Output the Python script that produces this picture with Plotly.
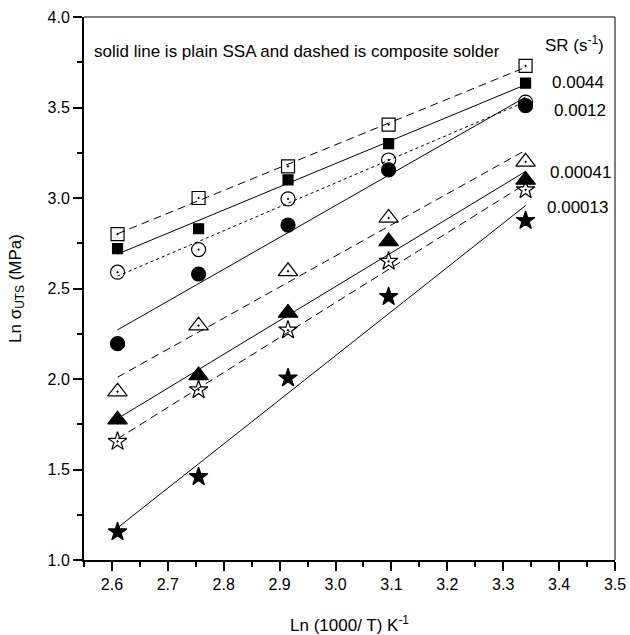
import numpy as np
import plotly.graph_objects as go

# x positions: Ln(1000/T)
x_vals = [2.61, 2.755, 2.915, 3.095, 3.34]

# Ln sigma_UTS values, plain SSA (filled) and composite (open)
sr_0044_plain = [2.72, 2.83, 3.10, 3.30, 3.635]
sr_0044_comp = [2.80, 3.00, 3.175, 3.405, 3.73]
sr_0012_plain = [2.195, 2.58, 2.85, 3.155, 3.51]
sr_0012_comp = [2.59, 2.715, 2.995, 3.21, 3.53]
sr_00041_plain = [1.775, 2.02, 2.365, 2.76, 3.10]
sr_00041_comp = [1.93, 2.295, 2.595, 2.89, 3.20]
sr_00013_plain = [1.155, 1.46, 2.005, 2.455, 2.875]
sr_00013_comp = [1.655, 1.94, 2.27, 2.65, 3.045]

sr_labels = ["0.0044", "0.0012", "0.00041", "0.00013"]
sr_label_y = [3.64, 3.485, 3.14, 2.95]
sr_label_x = [3.384, 3.388, 3.38, 3.375]

FONT = "Liberation Sans, Arial, sans-serif"

series = [
    # values, symbol, size, dash
    (sr_0044_comp, "square-open-dot", 13, "8px,5px"),
    (sr_0044_plain, "square", 10, "solid"),
    (sr_0012_comp, "circle-open-dot", 14, "3px,3px"),
    (sr_0012_plain, "circle", 14, "solid"),
    (sr_00041_comp, "triangle-up-open-dot", 17, "8px,5px"),
    (sr_00041_plain, "triangle-up", 17, "solid"),
    (sr_00013_comp, "star-open-dot", 14, "8px,5px"),
    (sr_00013_plain, "star", 14, "solid"),
]

fig = go.Figure()
xa = np.array(x_vals)
for vals, sym, size, dash in series:
    slope, icpt = np.polyfit(xa, np.array(vals), 1)
    xl = [x_vals[0], x_vals[-1]]
    yl = [slope * v + icpt for v in xl]
    fig.add_trace(go.Scatter(x=xl, y=yl, mode="lines",
                             line=dict(color="black", width=1, dash=dash),
                             showlegend=False, hoverinfo="skip"))
for vals, sym, size, dash in series:
    fig.add_trace(go.Scatter(x=x_vals, y=vals, mode="markers",
                             marker=dict(symbol=sym, size=size, color="black",
                                         line=dict(color="black", width=1.2)),
                             showlegend=False))

# annotations
fig.add_annotation(x=2.565, y=3.81, xref="x", yref="y", xanchor="left", yanchor="middle",
                   text="solid line is plain SSA and dashed is composite solder",
                   showarrow=False, font=dict(family=FONT, size=17, color="black"))
fig.add_annotation(x=3.371, y=3.85, xref="x", yref="y", xanchor="left", yanchor="middle",
                   text="SR (s<sup>-1</sup>)",
                   showarrow=False, font=dict(family=FONT, size=17, color="black"))
for lab, ly, lx in zip(sr_labels, sr_label_y, sr_label_x):
    fig.add_annotation(x=lx, y=ly, xref="x", yref="y", xanchor="left", yanchor="middle",
                       text=lab, showarrow=False,
                       font=dict(family=FONT, size=17, color="black"))

# thin top/right frame
fig.add_shape(type="line", xref="paper", yref="paper", x0=0, x1=1, y0=1, y1=1,
              line=dict(color="black", width=1))
fig.add_shape(type="line", xref="paper", yref="paper", x0=1, x1=1, y0=0, y1=1,
              line=dict(color="black", width=1))

fig.update_layout(
    width=630, height=635,
    margin=dict(l=84, r=15, t=17, b=75),
    paper_bgcolor="white", plot_bgcolor="white",
    font=dict(family=FONT, size=16, color="black"),
    xaxis=dict(range=[2.55, 3.5], tick0=2.6, dtick=0.1, tickformat=".1f",
               automargin=False,
               showgrid=False, zeroline=False, showline=True, linecolor="black",
               linewidth=2, ticks="outside", ticklen=9, tickwidth=2, tickcolor="black",
               minor=dict(dtick=0.05, tick0=2.55, ticks="outside", ticklen=5,
                          tickwidth=2, tickcolor="black"),
               tickfont=dict(family=FONT, size=16),
               title=dict(text="Ln (1000/ T) K<sup>-1</sup>", standoff=33,
                          font=dict(family=FONT, size=17))),
    yaxis=dict(range=[1.0, 4.0], tick0=1.0, dtick=0.5, tickformat=".1f",
               automargin=False,
               showgrid=False, zeroline=False, showline=True, linecolor="black",
               linewidth=2, ticks="outside", ticklen=9, tickwidth=2, tickcolor="black",
               minor=dict(dtick=0.25, tick0=1.0, ticks="outside", ticklen=5,
                          tickwidth=2, tickcolor="black"),
               tickfont=dict(family=FONT, size=16),
               title=dict(text="Ln σ<sub>UTS</sub> (MPa)", standoff=22,
                          font=dict(family=FONT, size=17))),
)

fig.write_html("out.html")
